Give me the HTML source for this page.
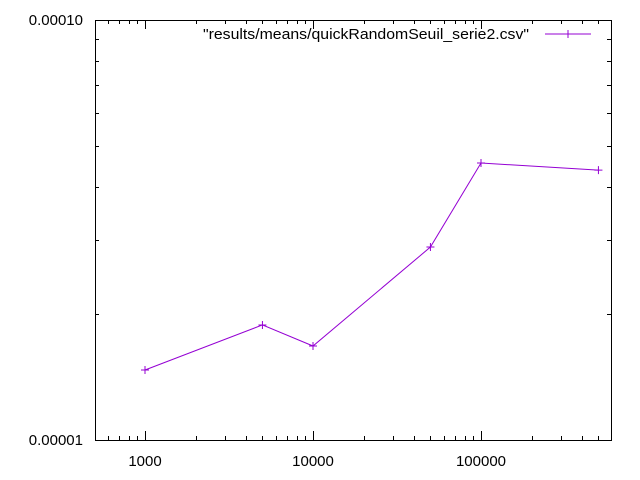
<!DOCTYPE html>
<html><head><meta charset="utf-8"><style>
body{margin:0;background:#fff}
svg{display:block;font-family:"Liberation Sans",sans-serif}
</style></head><body>
<svg id="c" width="640" height="480">
<rect x="95.5" y="20.5" width="516" height="420" fill="none" stroke="#000"/>
<g id="ticks"></g>
<text x="203" y="39" font-size="15" textLength="326" lengthAdjust="spacingAndGlyphs">"results/means/quickRandomSeuil_serie2.csv"</text>
<g><line x1="545" y1="34" x2="591" y2="34" stroke="#9400d3"/><path d="M564,34h8M568,30v8" stroke="#9400d3"/></g>
<g id="series"></g>
</svg>
<script>
const xVals=[1000,5000,10000,50000,100000,500000];
const yVals=[1.468e-5,1.879e-5,1.674e-5,2.88e-5,4.565e-5,4.39e-5];
const xTickLabels=["1000","10000","100000"];
const yTickLabels=["0.00001","0.00010"];
const NS="http://www.w3.org/2000/svg";
const X=v=>145+168*(Math.log10(v)-3);
const Y=v=>440-420*(Math.log10(v)+5);
const tk=document.getElementById('ticks');
function ln(x1,y1,x2,y2,p){const l=document.createElementNS(NS,'line');l.setAttribute('x1',x1);l.setAttribute('y1',y1);l.setAttribute('x2',x2);l.setAttribute('y2',y2);l.setAttribute('stroke',p||'#000');return l;}
function tx(x,y,s,a){const t=document.createElementNS(NS,'text');t.setAttribute('x',x);t.setAttribute('y',y);t.setAttribute('font-size','15');t.setAttribute('text-anchor',a);t.textContent=s;return t;}
for(let d=100;d<=1e6;d*=10){for(let m=1;m<10;m++){const v=d*m,x=Math.round(X(v))+0.5;if(x<95||x>611)continue;const len=m==1?9:4;
const a=ln(x,440,x,440-len);tk.appendChild(a);
const b=ln(x,20,x,20+len);tk.appendChild(b);}}
xTickLabels.forEach(s=>{const t=tx(X(+s),466,s,'middle');tk.appendChild(t);});
for(let m=1;m<=10;m++){const v=m*1e-5,y=Math.round(Y(v))+0.5;const len=(m==1||m==10)?9:4;
const a=ln(95,y,95+len,y);tk.appendChild(a);
const b=ln(611,y,611-len,y);tk.appendChild(b);}
yTickLabels.forEach(s=>{const t=tx(83,Y(+s)+5,s,'end');tk.appendChild(t);});
const sg=document.getElementById('series');
const pl=document.createElementNS(NS,'polyline');
pl.setAttribute('points',xVals.map((v,i)=>X(v)+','+Y(yVals[i])).join(' '));
pl.setAttribute('fill','none');pl.setAttribute('stroke','#9400d3');


sg.appendChild(pl);
xVals.forEach((v,i)=>{const x=X(v),y=Y(yVals[i]);const p=document.createElementNS(NS,'path');
p.setAttribute('d',`M${x-4},${y}h8M${x},${y-4}v8`);p.setAttribute('stroke','#9400d3');


sg.appendChild(p);});
</script>
</body></html>
